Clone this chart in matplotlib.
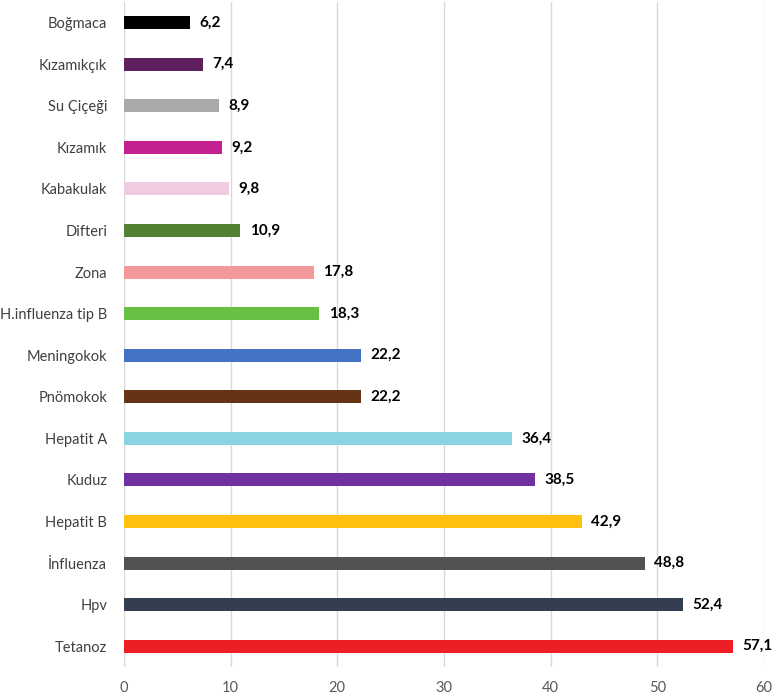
import matplotlib.pyplot as plt
import numpy as np

plt.rcParams['font.family'] = ['Lato', 'DejaVu Sans']

categories = ['Tetanoz', 'Hpv', 'İnfluenza', 'Hepatit B', 'Kuduz', 'Hepatit A',
              'Pnömokok', 'Meningokok', 'H.influenza tip B', 'Zona', 'Difteri',
              'Kabakulak', 'Kızamık', 'Su Çiçeği', 'Kızamıkçık', 'Boğmaca']
values = [57.1, 52.4, 48.8, 42.9, 38.5, 36.4, 22.2, 22.2, 18.3, 17.8, 10.9,
          9.8, 9.2, 8.9, 7.4, 6.2]
colors = ['#ED1F24', '#333F50', '#525252', '#FFC010', '#7030A0', '#88D4E1',
          '#663314', '#4472C4', '#6ABF47', '#F4999A', '#548235',
          '#F0CCE2', '#C4208F', '#A9A9A9', '#5E1F5E', '#000000']

fig = plt.figure(figsize=(7.72, 6.95), dpi=100)
ax = fig.add_axes([0.1606, 0.0403, 0.829, 0.957])

y = np.arange(len(categories))
ax.barh(y, values, height=0.31, color=colors, zorder=3)
for yi, v in zip(y, values):
    ax.text(v + 0.9, yi, f'{v:.1f}'.replace('.', ','), va='center', ha='left',
            fontsize=11, fontweight='bold', color='#000000', zorder=4)

ax.set_yticks(y)
ax.set_yticklabels(categories, fontsize=10.5, color='#404040')
ax.set_xlim(0, 60)
ax.set_ylim(-0.5, len(categories) - 0.5)
ax.set_xticks(np.arange(0, 61, 10))
ax.tick_params(axis='x', labelsize=10.5, labelcolor='#595959', length=0, pad=10)
ax.tick_params(axis='y', length=0, pad=12)
ax.grid(axis='x', color='#D9D9D9', linewidth=1, zorder=0)
for s in ax.spines.values():
    s.set_visible(False)

fig.savefig('out.png', dpi=100)
